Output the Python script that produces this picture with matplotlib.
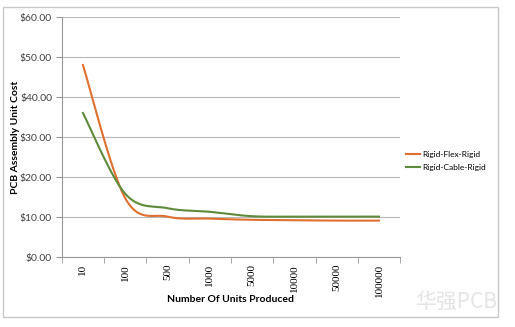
import numpy as np
import matplotlib.pyplot as plt
from matplotlib.patches import Rectangle

# datos
units = ['10', '100', '500', '1000', '5000', '10000', '50000', '100000']
rigid_flex = [48.0, 14.7, 10.1, 9.6, 9.3, 9.2, 9.1, 9.1]
rigid_cable = [36.0, 15.8, 12.2, 11.3, 10.2, 10.1, 10.1, 10.1]


def smooth(y, n=30):
    # curva suavizada tipo Excel (Catmull-Rom)
    y = np.asarray(y, dtype=float)
    x = np.arange(len(y), dtype=float)
    px = np.concatenate([[x[0]], x, [x[-1]]])
    py = np.concatenate([[y[0]], y, [y[-1]]])
    xs, ys = [], []
    t = np.linspace(0, 1, n)
    for i in range(1, len(px) - 2):
        for p, out in ((px, xs), (py, ys)):
            p0, p1, p2, p3 = p[i - 1], p[i], p[i + 1], p[i + 2]
            c1 = p1 + (p2 - p0) / 6
            c2 = p2 - (p3 - p1) / 6
            out.extend((1 - t) ** 3 * p1 + 3 * (1 - t) ** 2 * t * c1
                       + 3 * (1 - t) * t ** 2 * c2 + t ** 3 * p2)
    return np.array(xs), np.array(ys)


plt.rcParams['font.family'] = 'Lato'

fig = plt.figure(figsize=(5.15, 3.27), dpi=100)
fig.patches.append(Rectangle((0.006, 0.03), 0.961, 0.95, transform=fig.transFigure,
                             fill=False, edgecolor='#c8c8c8', linewidth=1))
ax = fig.add_axes([0.120, 0.214, 0.657, 0.734])

ax.plot(*smooth(rigid_flex), color='#e07030', linewidth=1.5, label='Rigid-Flex-Rigid')
ax.plot(*smooth(rigid_cable), color='#5e8a3c', linewidth=1.5, label='Rigid-Cable-Rigid')

ax.set_xlim(-0.5, len(units) - 0.5)
ax.set_ylim(0, 60)
ax.set_yticks(np.arange(0, 61, 10))
ax.set_yticklabels(['$%.2f' % v for v in np.arange(0, 61, 10)], fontsize=7.5, color='#404040')
ax.set_xticks(np.arange(len(units)))
ax.set_xticklabels(units, rotation=90, fontsize=8, family='Liberation Serif', va='top')
ax.set_xticks(np.arange(len(units) + 1) - 0.5, minor=True)
ax.tick_params(axis='x', which='major', length=0, pad=5)
ax.tick_params(axis='x', which='minor', length=4, color='#999999')
ax.tick_params(axis='y', length=4, color='#999999', pad=3)
ax.grid(axis='y', color='#b8b8b8', linewidth=0.8)
ax.set_axisbelow(True)
for s in ['top', 'right']:
    ax.spines[s].set_visible(False)
ax.spines['left'].set_color('#999999')
ax.spines['bottom'].set_color('#999999')

ax.set_xlabel('Number Of Units Produced', fontsize=7.5, fontweight='bold')
ax.set_ylabel('PCB Assembly Unit Cost', fontsize=7.5, fontweight='bold')
ax.xaxis.set_label_coords(0.5, -0.16)
ax.yaxis.set_label_coords(-0.125, 0.5)

ax.legend(loc='center left', bbox_to_anchor=(1.0, 0.40), frameon=False, fontsize=6,
          handlelength=1.7, handletextpad=0.2, labelspacing=0.7, borderpad=0.2)

fig.text(0.885, 0.06, '华强PCB', fontsize=15, color='#e4e4e4', ha='center',
         family=['Noto Sans CJK SC', 'DejaVu Sans'])

fig.savefig('out.png', dpi=100)
